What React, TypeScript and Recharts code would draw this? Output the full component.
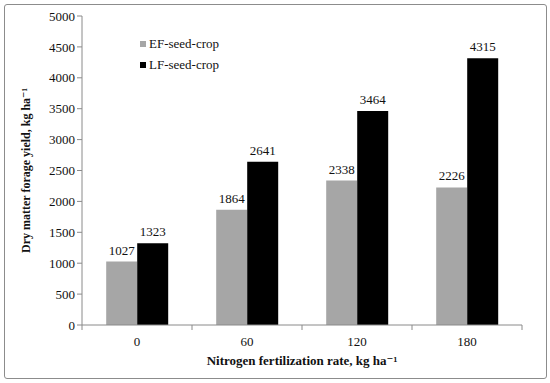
import React from 'react'
import { Bar, BarChart, LabelList, Legend, XAxis, YAxis } from 'recharts'

const rates = ['0', '60', '120', '180']
const efSeedCrop = [1027, 1864, 2338, 2226]
const lfSeedCrop = [1323, 2641, 3464, 4315]
const yTicks = [0, 500, 1000, 1500, 2000, 2500, 3000, 3500, 4000, 4500, 5000]

const data = rates.map((rate, i) => ({
  rate,
  ef: efSeedCrop[i],
  lf: lfSeedCrop[i]
}))

const FONT = '"Liberation Serif", "DejaVu Serif", serif'
const AXIS_GREY = '#8a8a8a'

const CategoryTick = (props: any) => {
  const { x, y, payload, index, visibleTicksCount } = props
  const half = payload.offset ?? 55
  const isLast = index === visibleTicksCount - 1
  return (
    <g>
      <line x1={x - half} y1={y - 8} x2={x - half} y2={y - 3} stroke={AXIS_GREY} />
      {isLast && (
        <line x1={x + half} y1={y - 8} x2={x + half} y2={y - 3} stroke={AXIS_GREY} />
      )}
      <text x={x} y={y + 13} textAnchor='middle' fontSize={13} fill='#111' fontFamily={FONT}>
        {payload.value}
      </text>
    </g>
  )
}

const LegendBox = () => (
  <div style={{ fontFamily: FONT, fontSize: 13, color: '#111', lineHeight: '21px' }}>
    {[
      { name: 'EF-seed-crop', color: '#a6a6a6' },
      { name: 'LF-seed-crop', color: '#000' }
    ].map((item) => (
      <div key={item.name} style={{ display: 'flex', alignItems: 'center' }}>
        <span
          style={{
            display: 'inline-block',
            width: 6,
            height: 6,
            background: item.color,
            marginRight: 3
          }}
        />
        {item.name}
      </div>
    ))}
  </div>
)

const App = () => {
  return (
    <div style={{ position: 'absolute', left: 0, top: 0, width: 550, height: 383, background: '#fff' }}>
      <div
        style={{
          position: 'absolute',
          left: 4,
          top: 4,
          width: 541,
          height: 373,
          border: '1.5px solid #8c8c8c',
          borderRadius: 3
        }}
      />
      <div style={{ position: 'absolute', left: 0, top: 0 }}>
        <BarChart
          width={550}
          height={383}
          data={data}
          margin={{ top: 16, right: 28, bottom: 18, left: 22 }}
          barCategoryGap='22%'
          barGap={0}>
          <XAxis
            dataKey='rate'
            stroke={AXIS_GREY}
            tickLine={false}
            tick={<CategoryTick />}
            height={40}
            label={{
              value: 'Nitrogen fertilization rate, kg ha\u207B\u00B9',
              position: 'insideBottom',
              offset: 0,
              fontFamily: FONT,
              fontSize: 13,
              fontWeight: 'bold',
              fill: '#111'
            }}
          />
          <YAxis
            domain={[0, 5000]}
            ticks={yTicks}
            interval={0}
            width={60}
            stroke={AXIS_GREY}
            tickSize={5}
            tick={{ fontFamily: FONT, fontSize: 13, fill: '#111' }}
            label={{
              value: 'Dry matter forage yield, kg ha\u207B\u00B9',
              angle: -90,
              position: 'insideLeft',
              fontFamily: FONT,
              fontSize: 12,
              fontWeight: 'bold',
              fill: '#111',
              style: { textAnchor: 'middle' },
              dx: -1
            }}
          />
          <Legend
            layout='vertical'
            align='center'
            verticalAlign='middle'
            content={<LegendBox />}
            wrapperStyle={{ left: 140, top: 33, width: 'auto' }}
          />
          <Bar dataKey='ef' fill='#a6a6a6' isAnimationActive={false}>
            <LabelList dataKey='ef' position='top' offset={7} fontFamily={FONT} fontSize={13} fill='#111' />
          </Bar>
          <Bar dataKey='lf' fill='#000' isAnimationActive={false}>
            <LabelList dataKey='lf' position='top' offset={7} fontFamily={FONT} fontSize={13} fill='#111' />
          </Bar>
        </BarChart>
      </div>
    </div>
  )
}

export default App
